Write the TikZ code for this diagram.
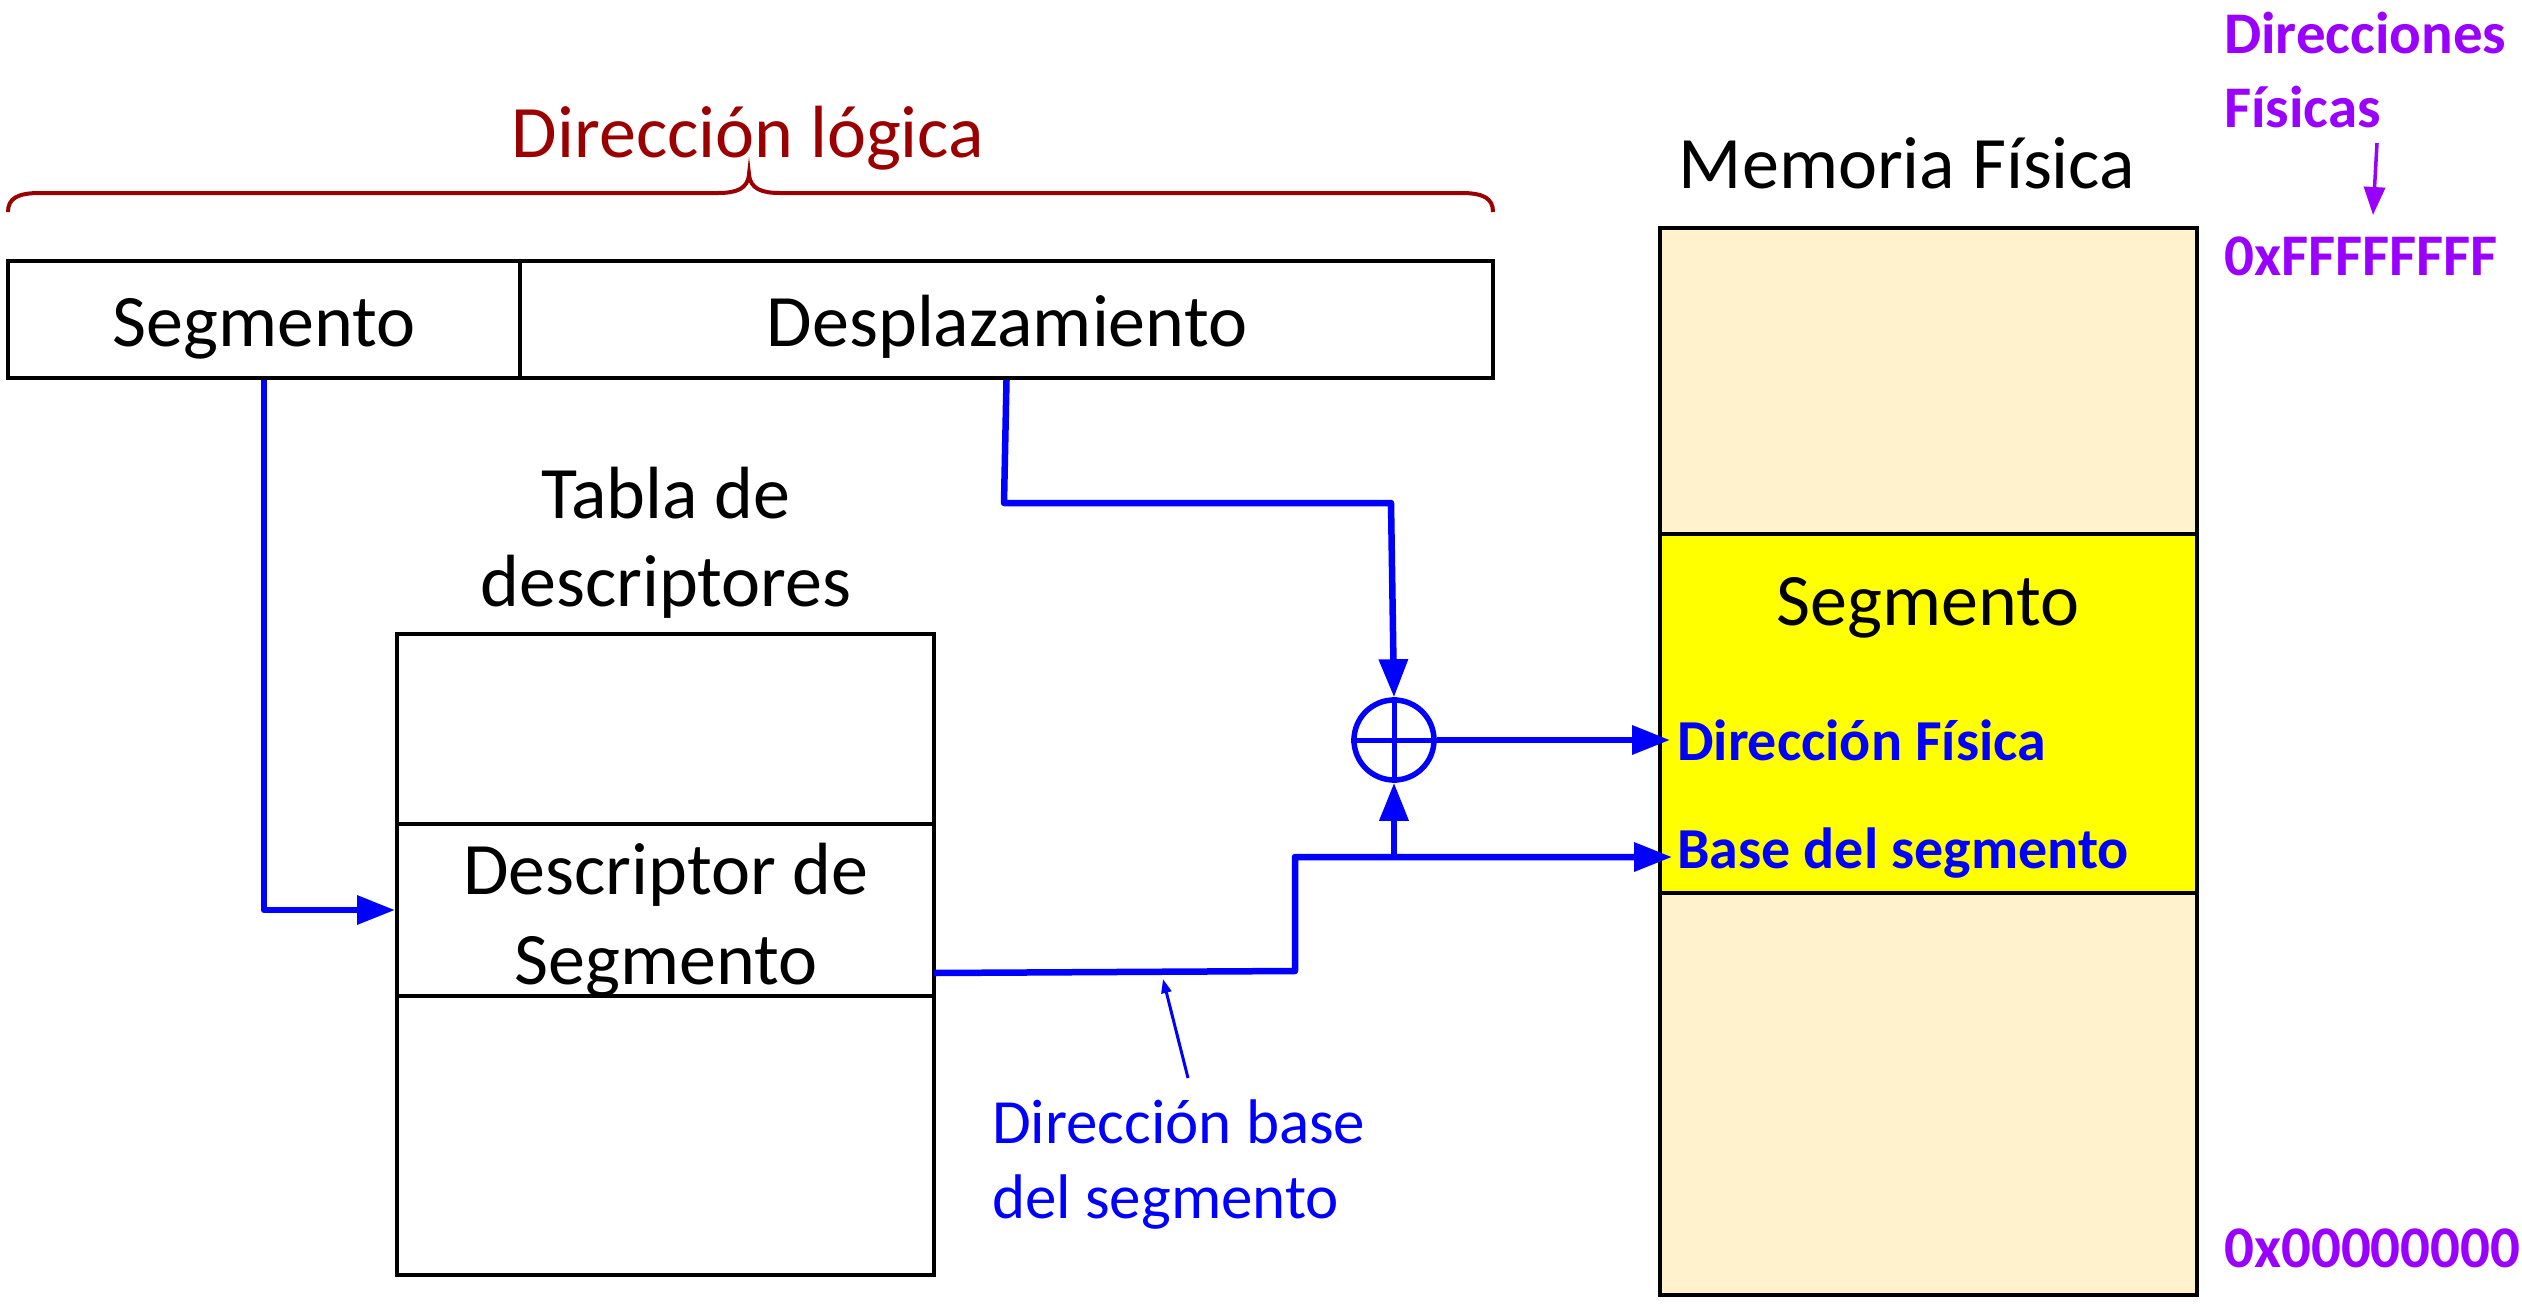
\documentclass[tikz,border=0pt]{standalone}
\usepackage{fontspec}
\setmainfont{Carlito}
\usetikzlibrary{arrows.meta}
\definecolor{drk}{RGB}{155,0,0}
\definecolor{purp}{RGB}{153,0,255}
\definecolor{lightfill}{HTML}{FFF2CC}
\definecolor{yel}{HTML}{FFFF00}
\newcommand\szbig{\fontsize{74}{89}\selectfont}
\newcommand\szbold{\fontsize{58}{70}\selectfont\bfseries}
\newcommand\szpurp{\fontsize{59}{70}\selectfont\bfseries}
\newcommand\szmid{\fontsize{63}{75}\selectfont}
\begin{document}
\begin{tikzpicture}[x=1pt,y=-1pt,
  bx/.style={draw=black, line width=4pt, inner sep=0pt, minimum width=#1},
  lbl/.style={inner sep=0pt, anchor=base, font=\szbig},
  bl/.style={draw=blue, line width=6.5pt, line join=round},
  blarrow/.style={bl, -{Triangle[length=38pt,width=28pt]}},
  hint/.style={inner sep=0pt, anchor=base west, font=\szbold},
]
\useasboundingbox (0,0) rectangle (2522,1304);

% brace and logical address
\draw[drk, line width=4pt] (8,212) .. controls (8,198) and (18,193) .. (40,193) -- (718,193)
  .. controls (736,193) and (748,189) .. (749,174) .. controls (750,189) and (762,193) .. (780,193)
  -- (1461,193) .. controls (1483,193) and (1493,198) .. (1493,212);
\node[lbl, text=drk] (tlog) at (748,157) {Dirección lógica};

% logical address box
\node[bx=512pt, minimum height=117pt] (seg) at (264,319.5) {};
\node[bx=973pt, minimum height=117pt] (desp) at (1006.5,319.5) {};
\node[lbl] (tseg) at (264,346) {Segmento};
\node[lbl] (tdesp) at (1007,346) {Desplazamiento};

% descriptor table
\node[lbl] (ttab1) at (666,518) {Tabla de};
\node[lbl] (ttab2) at (666,606) {descriptores};
\node[bx=537pt, minimum height=190pt] (dtop) at (665.5,729) {};
\node[bx=537pt, minimum height=172pt] (descr) at (665.5,910) {};
\node[bx=537pt, minimum height=279pt] (dbot) at (665.5,1135.5) {};
\node[lbl] (tdesc1) at (666,894) {Descriptor de};
\node[lbl] (tdesc2) at (666,984) {Segmento};

% physical memory
\node[lbl] (tmem) at (1907,188) {Memoria Física};
\node[bx=537pt, minimum height=306pt, fill=lightfill] (mtop) at (1928.5,381) {};
\node[bx=537pt, minimum height=359pt, fill=yel] (mseg) at (1928.5,713.5) {};
\node[bx=537pt, minimum height=402pt, fill=lightfill] (mbot) at (1928.5,1094) {};
\node[lbl] (tmseg) at (1928,625) {Segmento};
\node[hint, text=blue] (tdf) at (1677,760) {Dirección Física};
\node[hint, text=blue] (tbs) at (1677,868) {Base del segmento};

% purple annotations
\node[hint, font=\szpurp, text=purp] (pd1) at (2224,53) {Direcciones};
\node[hint, font=\szpurp, text=purp] (pd2) at (2224,127) {Físicas};
\node[hint, font=\szpurp, text=purp] (pff) at (2224,275) {0xFFFFFFFF};
\node[hint, font=\szpurp, text=purp] (p00) at (2224,1267) {0x00000000};
\coordinate (pa1) at (2377,143);
\coordinate (pa2) at (2373,215);
\draw[purp, line width=3.5pt, -{Triangle[length=28pt,width=21pt]}] (pa1) -- (pa2);

% adder
\node[draw=blue, line width=5.5pt, circle, minimum size=80pt, inner sep=0pt] (sum) at (1394,740) {};
\draw[blue, line width=5pt] (sum.north) -- (sum.south);
\draw[blue, line width=5pt] (sum.west) -- (sum.east);

% connectors
\draw[blarrow] (seg.south) -- (seg.south |- descr.west) -- (descr.west);
\coordinate (k1) at (1004,503);
\coordinate (k2) at (1391,503);
\draw[blarrow] (desp.south) -- (k1) -- (k2) -- (sum.north);
\draw[blarrow, shorten >=-12pt] (sum.east) -- (sum.east -| mseg.west);
\coordinate (b0) at (934,973);
\coordinate (b1) at (1295,971);
\coordinate (b2) at (1660,857);
\draw[bl] (b0) -- (b1) |- (b2);
\draw[blarrow, shorten >=-12pt] (b1 |- b2) -- (b2);
\draw[blarrow] (sum.south |- b2) -- (sum.south);

% base address label
\node[inner sep=0pt, anchor=base west, font=\szmid, text=blue] (lb1) at (992,1143) {Dirección base};
\node[inner sep=0pt, anchor=base west, font=\szmid, text=blue] (lb2) at (992,1218) {del segmento};
\coordinate (t1) at (1188,1078);
\coordinate (t2) at (1163,979);
\draw[blue, line width=3pt, -{Triangle[length=14pt,width=10pt]}] (t1) -- (t2);
\end{tikzpicture}
\end{document}
